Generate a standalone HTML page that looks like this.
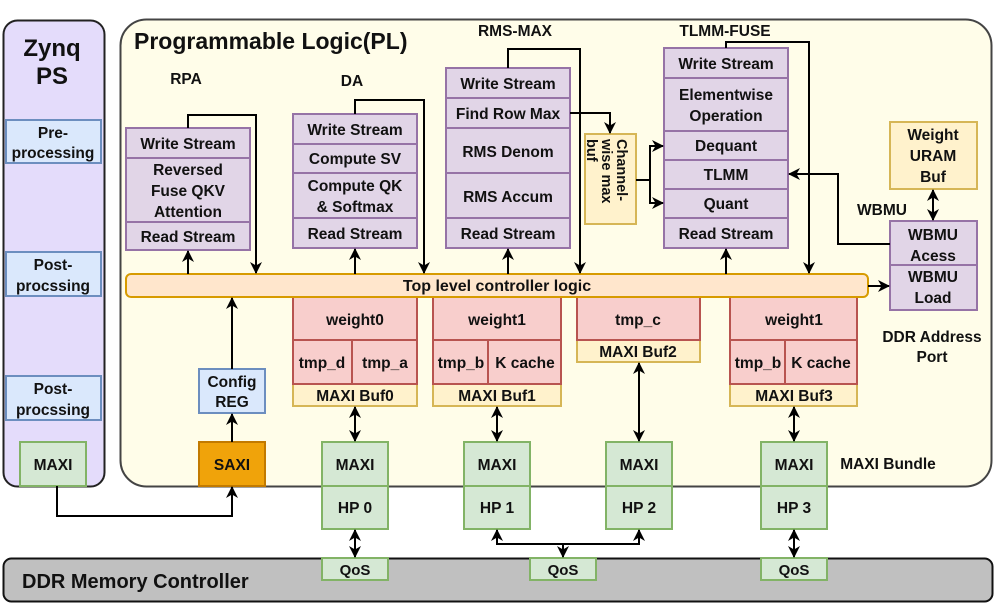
<!DOCTYPE html>
<html><head><meta charset="utf-8"><style>
body{margin:0;background:#fff;}
svg{display:block;font-family:"Liberation Sans",sans-serif;font-weight:bold;}
text{fill:#111;text-anchor:middle;}
</style></head><body>
<svg width="996" height="608" viewBox="0 0 996 608" xmlns="http://www.w3.org/2000/svg">
<defs>
<marker id="a" markerWidth="14" markerHeight="14" refX="11" refY="6" orient="auto-start-reverse" markerUnits="userSpaceOnUse"><path d="M0,0 L12,6 L0,12 L3.5,6 z" fill="#000"/></marker>
</defs>
<!-- Zynq PS -->
<rect x="3.5" y="20.5" width="101" height="466" rx="14" fill="#e4dcfb" stroke="#222" stroke-width="2"/>
<text x="52" y="56" font-size="24">Zynq</text>
<text x="52" y="84" font-size="24">PS</text>
<g fill="#dae8fc" stroke="#6c8ebf" stroke-width="2">
<rect x="6" y="120" width="95" height="43"/>
<rect x="6" y="252" width="95" height="44"/>
<rect x="6" y="376" width="95" height="44"/>
</g>
<g font-size="15.5">
<text x="53" y="138">Pre-</text><text x="53" y="158">processing</text>
<text x="53" y="270">Post-</text><text x="53" y="291">procssing</text>
<text x="53" y="394">Post-</text><text x="53" y="415">procssing</text>
</g>
<!-- PL -->
<rect x="120.5" y="19.5" width="871" height="467" rx="26" fill="#fffde9" stroke="#444" stroke-width="2"/>
<text x="134" y="49" font-size="23" style="text-anchor:start">Programmable Logic(PL)</text>
<g font-size="15.5">
<text x="186" y="84">RPA</text>
<text x="352" y="86">DA</text>
<text x="515" y="36">RMS-MAX</text>
<text x="725" y="36">TLMM-FUSE</text>
<text x="882" y="215">WBMU</text>
<text x="932" y="342">DDR Address</text>
<text x="932" y="362">Port</text>
<text x="888" y="469">MAXI Bundle</text>
</g>
<!-- purple stacks -->
<g fill="#e1d5e7" stroke="#9673a6" stroke-width="2">
<rect x="126" y="128" width="124" height="30"/><rect x="126" y="158" width="124" height="64"/><rect x="126" y="222" width="124" height="28"/>
<rect x="293" y="114" width="124" height="30"/><rect x="293" y="144" width="124" height="29"/><rect x="293" y="173" width="124" height="45"/><rect x="293" y="218" width="124" height="30"/>
<rect x="446" y="68" width="124" height="30"/><rect x="446" y="98" width="124" height="30"/><rect x="446" y="128" width="124" height="45"/><rect x="446" y="173" width="124" height="45"/><rect x="446" y="218" width="124" height="30"/>
<rect x="664" y="48" width="124" height="30"/><rect x="664" y="78" width="124" height="53"/><rect x="664" y="131" width="124" height="29"/><rect x="664" y="160" width="124" height="29"/><rect x="664" y="189" width="124" height="29"/><rect x="664" y="218" width="124" height="30"/>
<rect x="890" y="221" width="87" height="44"/><rect x="890" y="265" width="87" height="45"/>
</g>
<g font-size="15.5">
<text x="188" y="149">Write Stream</text><text x="188" y="175">Reversed</text><text x="188" y="196">Fuse QKV</text><text x="188" y="217">Attention</text><text x="188" y="242">Read Stream</text>
<text x="355" y="135">Write Stream</text><text x="355" y="164">Compute SV</text><text x="355" y="191">Compute QK</text><text x="355" y="212">&amp; Softmax</text><text x="355" y="239">Read Stream</text>
<text x="508" y="89">Write Stream</text><text x="508" y="119">Find Row Max</text><text x="508" y="157">RMS Denom</text><text x="508" y="202">RMS Accum</text><text x="508" y="239">Read Stream</text>
<text x="726" y="69">Write Stream</text><text x="726" y="100">Elementwise</text><text x="726" y="121">Operation</text><text x="726" y="151">Dequant</text><text x="726" y="180">TLMM</text><text x="726" y="209">Quant</text><text x="726" y="239">Read Stream</text>
<text x="933" y="240">WBMU</text><text x="933" y="261">Acess</text><text x="933" y="282">WBMU</text><text x="933" y="303">Load</text>
</g>
<!-- yellow bufs -->
<g fill="#fff2cc" stroke="#d6b656" stroke-width="2">
<rect x="585" y="134" width="51" height="90"/>
<rect x="890" y="122" width="87" height="67"/>
<rect x="293" y="384" width="124" height="22"/><rect x="433" y="384" width="128" height="22"/>
<rect x="577" y="340" width="123" height="22"/><rect x="730" y="384" width="127" height="22"/>
</g>
<text font-size="14.5" transform="translate(610,139) rotate(90)" style="text-anchor:start"><tspan x="0" y="-7">Channel-</tspan><tspan x="0" y="8">wise max</tspan><tspan x="0" y="23">buf</tspan></text>
<g font-size="15.5">
<text x="933" y="140">Weight</text><text x="933" y="161">URAM</text><text x="933" y="182">Buf</text>
<text x="355" y="401">MAXI Buf0</text><text x="497" y="401">MAXI Buf1</text><text x="638" y="357">MAXI Buf2</text><text x="794" y="401">MAXI Buf3</text>
</g>
<!-- red -->
<g fill="#f8cecc" stroke="#b85450" stroke-width="2">
<rect x="293" y="297" width="124" height="43"/><rect x="293" y="340" width="59" height="44"/><rect x="352" y="340" width="65" height="44"/>
<rect x="433" y="297" width="128" height="43"/><rect x="433" y="340" width="55" height="44"/><rect x="488" y="340" width="73" height="44"/>
<rect x="577" y="297" width="123" height="43"/>
<rect x="730" y="297" width="127" height="43"/><rect x="730" y="340" width="55" height="44"/><rect x="785" y="340" width="72" height="44"/>
</g>
<g font-size="15.5">
<text x="355" y="325">weight0</text><text x="322" y="368">tmp_d</text><text x="385" y="368">tmp_a</text>
<text x="497" y="325">weight1</text><text x="461" y="368">tmp_b</text><text x="525" y="368">K cache</text>
<text x="638" y="325">tmp_c</text>
<text x="794" y="325">weight1</text><text x="758" y="368">tmp_b</text><text x="821" y="368">K cache</text>
</g>
<!-- controller bar -->
<rect x="126" y="274" width="742" height="23" rx="5" fill="#ffe6cc" stroke="#d79b00" stroke-width="2"/>
<text x="497" y="291" font-size="16">Top level controller logic</text>
<!-- config / saxi -->
<rect x="199" y="369" width="66" height="44" fill="#dae8fc" stroke="#6c8ebf" stroke-width="2"/>
<text x="232" y="387" font-size="15.5">Config</text><text x="232" y="407" font-size="15.5">REG</text>
<rect x="199" y="442" width="66" height="44" fill="#f0a30a" stroke="#c27a00" stroke-width="2"/>
<text x="232" y="470" font-size="15.5">SAXI</text>
<!-- green -->
<g fill="#d5e8d4" stroke="#82b366" stroke-width="2">
<rect x="20" y="442" width="66" height="44"/>
<rect x="322" y="442" width="66" height="44"/><rect x="322" y="486" width="66" height="43"/>
<rect x="464" y="442" width="66" height="44"/><rect x="464" y="486" width="66" height="43"/>
<rect x="606" y="442" width="66" height="44"/><rect x="606" y="486" width="66" height="43"/>
<rect x="761" y="442" width="66" height="44"/><rect x="761" y="486" width="66" height="43"/>
</g>
<g font-size="15.5">
<text x="53" y="470">MAXI</text>
<text x="355" y="470">MAXI</text><text x="355" y="513">HP 0</text>
<text x="497" y="470">MAXI</text><text x="497" y="513">HP 1</text>
<text x="639" y="470">MAXI</text><text x="639" y="513">HP 2</text>
<text x="794" y="470">MAXI</text><text x="794" y="513">HP 3</text>
</g>
<!-- DDR -->
<rect x="3.5" y="558.5" width="989" height="43" rx="8" fill="#c0c0c0" stroke="#111" stroke-width="2"/>
<text x="22" y="588" font-size="20" style="text-anchor:start">DDR Memory Controller</text>
<g fill="#d5e8d4" stroke="#82b366" stroke-width="2">
<rect x="322" y="558" width="66" height="22"/><rect x="530" y="558" width="66" height="22"/><rect x="761" y="558" width="66" height="22"/>
</g>
<g font-size="15"><text x="355" y="575">QoS</text><text x="563" y="575">QoS</text><text x="794" y="575">QoS</text></g>
<!-- connectors -->
<g stroke="#000" stroke-width="2" fill="none">
<path d="M188,274 V251" marker-end="url(#a)"/>
<path d="M188,128 V115 H256 V273" marker-end="url(#a)"/>
<path d="M355,274 V249" marker-end="url(#a)"/>
<path d="M355,114 V100 H424 V273" marker-end="url(#a)"/>
<path d="M508,274 V249" marker-end="url(#a)"/>
<path d="M508,68 V49 H580 V273" marker-end="url(#a)"/>
<path d="M570,113 H610 V133" marker-end="url(#a)"/>
<path d="M636,180 H650 V146 H663" marker-end="url(#a)"/>
<path d="M650,180 V203 H663" marker-end="url(#a)"/>
<path d="M726,274 V249" marker-end="url(#a)"/>
<path d="M726,48 V42 H809 V273" marker-end="url(#a)"/>
<path d="M890,244 H838 V174 H789" marker-end="url(#a)"/>
<path d="M868,286 H889" marker-end="url(#a)"/>
<path d="M933,190 V220" marker-start="url(#a)" marker-end="url(#a)"/>
<path d="M232,369 V298" marker-end="url(#a)"/>
<path d="M232,442 V414" marker-end="url(#a)"/>
<path d="M57,486 V516 H232 V487" marker-end="url(#a)"/>
<path d="M355,407 V441" marker-start="url(#a)" marker-end="url(#a)"/>
<path d="M497,407 V441" marker-start="url(#a)" marker-end="url(#a)"/>
<path d="M639,363 V441" marker-start="url(#a)" marker-end="url(#a)"/>
<path d="M794,407 V441" marker-start="url(#a)" marker-end="url(#a)"/>
<path d="M355,530 V557" marker-start="url(#a)" marker-end="url(#a)"/>
<path d="M794,530 V557" marker-start="url(#a)" marker-end="url(#a)"/>
<path d="M497,530 V544 H639 V530" marker-start="url(#a)" marker-end="url(#a)"/>
<path d="M563,544 V557" marker-end="url(#a)"/>
</g>
</svg>
</body></html>
